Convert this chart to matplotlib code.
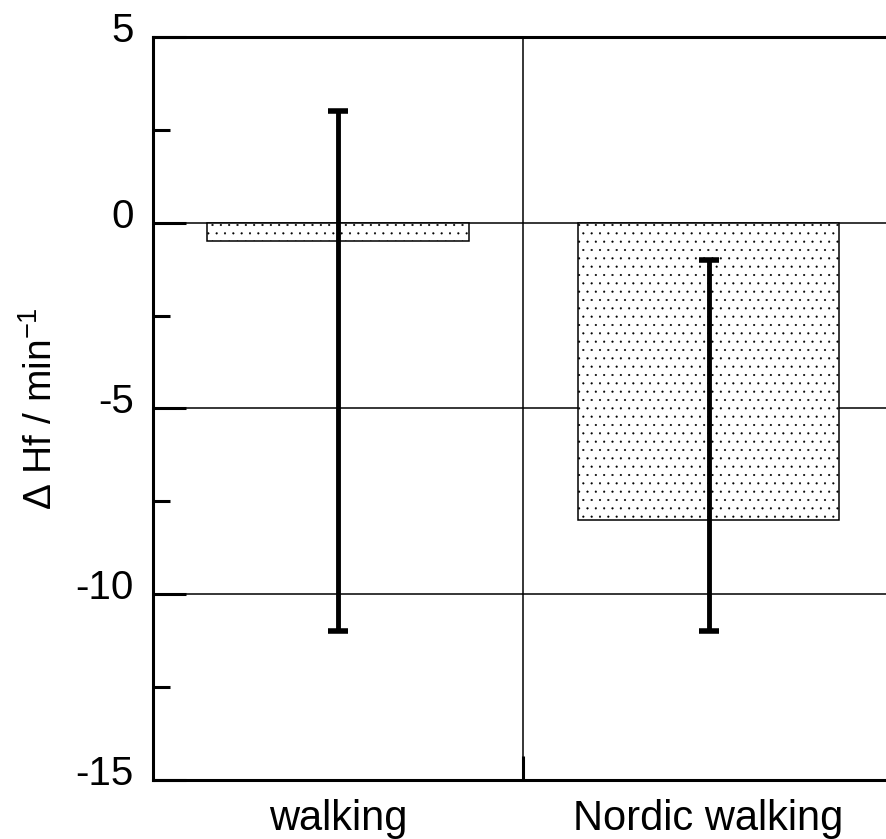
import numpy as np
import matplotlib.pyplot as plt
from matplotlib.ticker import MultipleLocator
from matplotlib.transforms import ScaledTranslation

categories = ['walking', 'Nordic walking']
means = [-0.5, -8.0]
err_upper = [3.0, -1.0]   # top of error bar
err_lower = [-11.0, -11.0]  # bottom of error bar

plt.rcParams['font.family'] = ['Liberation Sans', 'DejaVu Sans']
plt.rcParams['mathtext.fontset'] = 'custom'
plt.rcParams['mathtext.rm'] = 'Liberation Sans'
plt.rcParams['axes.unicode_minus'] = False
plt.rcParams['hatch.linewidth'] = 0.3

fig = plt.figure(figsize=(8.86, 8.39), dpi=100)
ax = fig.add_axes([0.1727, 0.0703, 0.836, 0.8857])

x = np.arange(len(categories))
means_arr = np.array(means)
yerr = [means_arr - np.array(err_lower), np.array(err_upper) - means_arr]

ax.bar(x, means, width=0.707, color='white', edgecolor='black', linewidth=1.1,
       hatch='..', zorder=2)
ax.errorbar(x, means, yerr=yerr, fmt='none', ecolor='black', elinewidth=3.5,
            capsize=7, capthick=4, zorder=3)

for yv in [0, -5, -10]:
    ax.axhline(yv, color='black', linewidth=1.1, zorder=1)
ax.axvline(0.5, color='black', linewidth=1.1, zorder=1)

ax.set_xlim(-0.5, 1.5)
ax.set_ylim(-15, 5)
ax.set_yticks([5, 0, -5, -10, -15])
ax.yaxis.set_minor_locator(MultipleLocator(2.5))
ax.set_xticks([0.5], minor=True)
ax.set_xticks(x)
ax.set_xticklabels(categories)
ax.tick_params(axis='x', which='major', length=0, pad=14, labelsize=30)
ax.tick_params(axis='x', which='minor', direction='in', length=17, width=2.2)
ax.tick_params(axis='y', which='major', direction='in', length=24, width=2.2,
               labelsize=29, pad=14)
ax.tick_params(axis='y', which='minor', direction='in', length=12, width=2.2)

for s in ['left', 'top', 'bottom']:
    ax.spines[s].set_linewidth(2.2)
ax.spines['right'].set_visible(False)

ax.set_ylabel('$\\mathregular{\\Delta}$ Hf / min$^{-1}$', fontsize=28)
ax.yaxis.set_label_coords(-0.126, 0.5)

# y tick labels sit a bit above their ticks in the original
shift = ScaledTranslation(0, 0.10, fig.dpi_scale_trans)
for lab in ax.get_yticklabels():
    lab.set_transform(lab.get_transform() + shift)

fig.savefig('out.png', dpi=100)
